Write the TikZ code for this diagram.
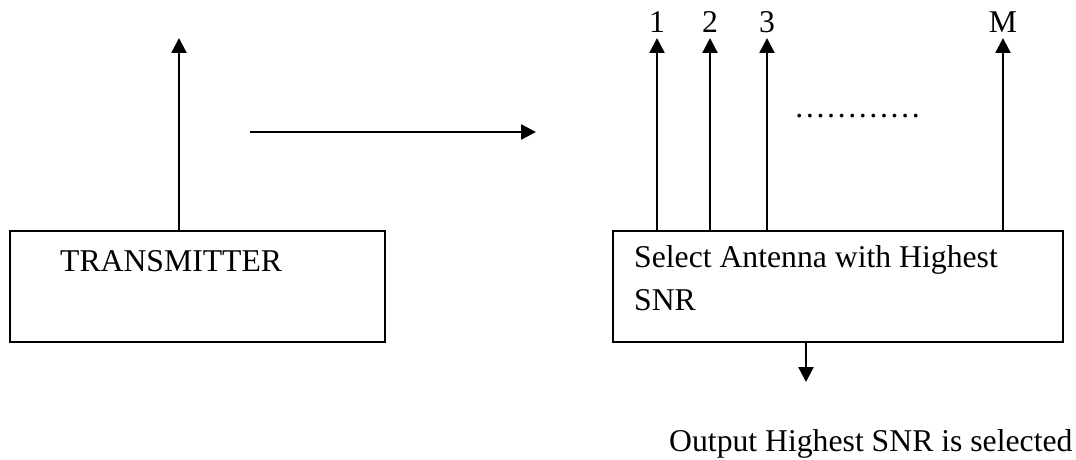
\documentclass[tikz,border=0pt]{standalone}
\usepackage{fontspec}
\setmainfont{Liberation Serif}
\usetikzlibrary{arrows.meta}
\begin{document}
\begin{tikzpicture}[x=1pt,y=-1pt,
  line width=2.4pt,
  blockbox/.style={draw, line width=2.2pt, minimum width=#1, minimum height=111pt, anchor=north west, inner sep=0pt},
  lbl/.style={font=\fontsize{31.7}{38}\selectfont, inner sep=0pt},
  arr/.style={-{Triangle[width=15pt,length=15pt]}}]
\useasboundingbox (0,0) rectangle (1076,460);
% left block
\node[blockbox=375pt] (tx) at (9,230) {};
\node[lbl, anchor=base west] (txt) at (59,271) {TRANSMITTER};
\coordinate (txant) at (179,38);
\draw[arr] (txant |- tx.north) -- (txant);
% channel arrow
\coordinate (chA) at (250,132);
\coordinate (chB) at (536,132);
\draw[arr] (chA) -- (chB);
% right block
\node[blockbox=450pt] (rx) at (612,230) {};
\node[lbl, anchor=base west] (rxt1) at (633,267) {Select Antenna with Highest};
\node[lbl, anchor=base west] (rxt2) at (633,310) {SNR};
\foreach \x/\n in {657/1,710/2,767/3,1003/M}{
  \coordinate (ant\n) at (\x,38);
  \draw[arr] (ant\n |- rx.north) -- (ant\n);
  \node[lbl, anchor=base] (lab\n) at (\x,33) {\n};
}
\node[lbl, anchor=base west] (dots) at (793,117) {…………};
% output
\coordinate (outend) at (806,382);
\draw[arr] (outend |- rx.south) -- (outend);
\node[lbl, anchor=base west] (outtxt) at (668,451) {Output Highest SNR is selected};
\end{tikzpicture}
\end{document}
